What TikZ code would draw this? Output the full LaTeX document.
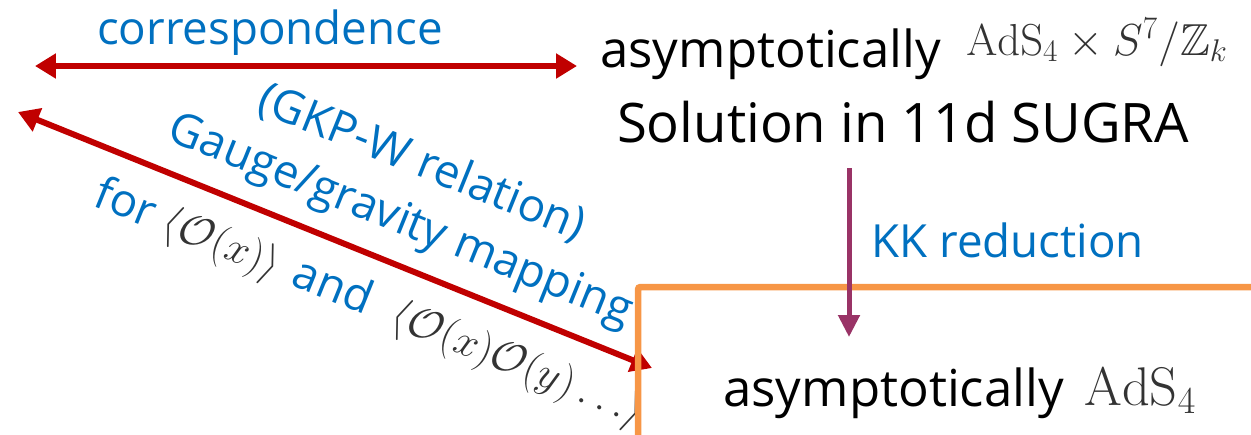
\RequirePackage{fix-cm}
\documentclass[tikz,border=0pt]{standalone}
\usepackage{amsmath,amssymb}
\usepackage[no-math]{fontspec}
\setmainfont{Open Sans}
\usetikzlibrary{arrows.meta,positioning}

\definecolor{corrred}{RGB}{192,0,0}
\definecolor{labelblue}{RGB}{0,112,192}
\definecolor{kkpurple}{RGB}{153,51,102}
\definecolor{boxorange}{RGB}{247,150,70}
\colorlet{mathgray}{black!80}

\newcommand{\bigtext}{\fontsize{29}{34}\selectfont}
\newcommand{\midtext}{\fontsize{26}{31}\selectfont}
\newcommand{\corrmath}[1]{\textcolor{mathgray}{\fontsize{24.5}{30}\selectfont$#1$}}

\begin{document}
\begin{tikzpicture}[
		x=0.02cm,y=-0.02cm,
		lbl/.style={text=labelblue,inner sep=0pt,font=\midtext},
		txt/.style={text=black,inner sep=0pt,font=\bigtext},
		mth/.style={text=mathgray,inner sep=0pt},
		redarrow/.style={{Triangle[length=0.42cm,width=0.48cm]}-{Triangle[length=0.42cm,width=0.48cm]},line width=0.12cm,draw=corrred},
		kkarrow/.style={-{Triangle[length=0.44cm,width=0.42cm]},line width=0.1cm,draw=kkpurple},
		boxline/.style={draw=boxorange,line width=0.13cm,rounded corners=0.05cm}
		]
		\useasboundingbox (0,0) rectangle (1251,434);
		
		% manual positions
		\node[lbl] (corr) at (270,33) {correspondence};
		\coordinate (corrL) at (35,66);
		\coordinate (corrR) at (577,66);
		
		\node[txt,anchor=base west] (solA) at (600,67) {asymptotically};
		\node[mth,anchor=base west] (solM) at (966,55)
		{\fontsize{25.5}{30}\selectfont $\mathrm{AdS}_4\times S^7/\mathbb{Z}_k$};
		\node[txt,font=\fontsize{31}{36}\selectfont,anchor=base] (sol) at (903,142)
		{Solution in 11d SUGRA};
		
		\node[lbl,anchor=base west] (kk) at (871,257) {KK reduction};
		
		\node[txt,anchor=base west] (bulkA) at (723,406) {asymptotically};
		\node[mth,anchor=base west] (bulkM) at (1084,405)
		{\fontsize{31}{36}\selectfont $\mathrm{AdS}_4$};
		
		% rotated labels
		\node[lbl,rotate=-22] (gkp) at (422,163) {(GKP-W relation)};
		\node[lbl,rotate=-22] (gauge) at (400,222) {Gauge/gravity mapping};
		\node[lbl,rotate=-22] (corrfor) at (369,304)
		{for \corrmath{\langle\mathcal{O}(x)\rangle}\hspace{0.1em} and \hspace{0.3em}\corrmath{\langle\mathcal{O}(x)\mathcal{O}(y)\ldots\rangle}};
		\coordinate (fieldL) at (18,112);
		\coordinate (fieldR) at (652,368);
		
		% arrows
		\draw[redarrow] (corrL) -- (corrR);
		\draw[redarrow] (fieldL) -- (fieldR);
		
		% boundary box
		\draw[boxline] (638,450) -- (638,287) -- (1270,287);
		
		\coordinate (kkS) at (849,168);
		\coordinate (kkE) at (849,337);
		\draw[kkarrow] (kkS) -- (kkE);
	\end{tikzpicture}
\end{document}
